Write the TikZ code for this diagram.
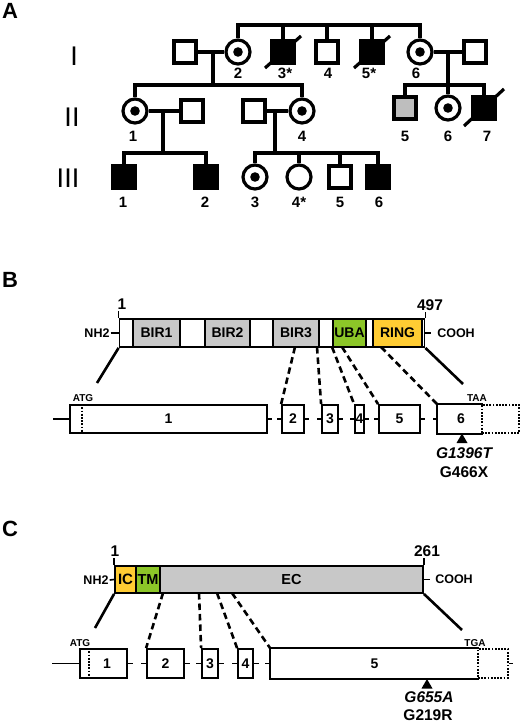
\documentclass[tikz,border=0pt]{standalone}
\usepackage{fontspec}
\setmainfont{Liberation Sans}
\usetikzlibrary{calc}
\definecolor{domgray}{RGB}{200,200,200}
\definecolor{ubagreen}{RGB}{140,198,40}
\definecolor{ringyellow}{RGB}{255,204,51}
\definecolor{pedgray}{RGB}{190,190,190}
\newcommand{\fsz}[1]{\fontsize{#1}{#1}\selectfont}
\begin{document}
\begin{tikzpicture}[x=1pt,y=-1pt,
  ped/.style={line width=3.2pt},
  msq/.style={draw, line width=3.2pt, rectangle, minimum size=22pt, inner sep=0pt},
  affsq/.style={msq, fill=black},
  graysq/.style={msq, fill=pedgray},
  fcirc/.style={draw, line width=3.2pt, circle, minimum size=24pt, inner sep=0pt},
  carrier/.style={fcirc, path picture={\fill (path picture bounding box.center) circle (4.8pt);}},
  num/.style={font=\bfseries\fsz{15}, inner sep=0pt},
  gen/.style={font=\fsz{27}, inner sep=0pt},
  panel/.style={font=\bfseries\fsz{22}, inner sep=0pt},
  protbar/.style={draw, line width=1.8pt, fill=white, rectangle, inner sep=0pt},
  dom/.style={draw, line width=1.8pt, rectangle, minimum height=28pt, inner sep=0pt, font=\bfseries\fsz{14}},
  term/.style={font=\bfseries\fsz{12.5}, inner sep=1pt},
  poslab/.style={font=\bfseries\fsz{15.5}, inner sep=1pt},
  exon/.style={draw, line width=1.8pt, rectangle, inner sep=0pt, font=\bfseries\fsz{14}},
  utr/.style={draw, line width=1.8pt, dash pattern=on 1.8pt off 1.4pt, rectangle, inner sep=0pt},
  intron/.style={line width=1.8pt},
  codon/.style={font=\bfseries\fsz{10}, inner sep=0pt},
  mut/.style={font=\bfseries\fsz{15.5}, inner sep=0pt},
  dconn/.style={line width=2.6pt, dash pattern=on 6.5pt off 4pt},
  sconn/.style={line width=2.6pt},
  tickline/.style={line width=1.6pt}
]
\useasboundingbox (0,0) rectangle (520,723);

% ================= Panel A =================
\node[panel] (pa) at (10,11) {A};
\node[gen] (g1) at (74,56) {I};
\node[gen] (g2) at (72,117) {II};
\node[gen] (g3) at (68,178) {III};

\coordinate (sI) at (0,25);
\coordinate (sII) at (0,85);
\coordinate (sIII) at (0,153);

% generation I
\node[msq] (i1) at (185,52) {};
\node[carrier] (i2) at (238,52) {};
\node[affsq] (i3) at (283,52) {};
\node[msq] (i4) at (327,52) {};
\node[affsq] (i5) at (372,52) {};
\node[carrier] (i6) at (420,52) {};
\node[msq] (i7) at (475,52) {};

\draw[ped] (i2.north) |- (i6.north |- sI) -- (i6.north);
\draw[ped] (i3.north) -- (i3.north |- sI);
\draw[ped] (i4.north) -- (i4.north |- sI);
\draw[ped] (i5.north) -- (i5.north |- sI);
\draw[ped] ([shift={(-18,16)}]i3.center) -- ([shift={(18,-16)}]i3.center);
\draw[ped] ([shift={(-18,16)}]i5.center) -- ([shift={(18,-16)}]i5.center);

\draw[ped] (i1.east) -- (i2.west);
\draw[ped] (i6.east) -- (i7.west);
\coordinate (d1) at (213,52);
\coordinate (d2) at (448,52);

% generation II
\node[carrier] (ii1) at (135,111) {};
\node[msq] (ii2) at (192,111) {};
\node[msq] (ii3) at (254,111) {};
\node[carrier] (ii4) at (302,111) {};
\node[graysq] (ii5) at (405,108) {};
\node[carrier] (ii6) at (448,108) {};
\node[affsq] (ii7) at (484,108) {};
\draw[ped] ([shift={(-20,18)}]ii7.center) -- ([shift={(20,-19)}]ii7.center);

\draw[ped] (d1) -- (d1 |- sII);
\draw[ped] (ii1.north) |- (ii4.north |- sII) -- (ii4.north);
\draw[ped] (d2) -- (d2 |- sII);
\draw[ped] (ii5.north) |- (ii7.north |- sII) -- (ii7.north);
\draw[ped] (ii6.north) -- (ii6.north |- sII);

\draw[ped] (ii1.east) -- (ii2.west);
\draw[ped] (ii3.east) -- (ii4.west);
\coordinate (d3) at (163,111);
\coordinate (d4) at (275,111);

% generation III
\node[affsq] (iii1) at (124,177) {};
\node[affsq] (iii2) at (206,177) {};
\node[carrier] (iii3) at (255,177) {};
\node[fcirc] (iii4) at (299,177) {};
\node[msq] (iii5) at (340,177) {};
\node[affsq] (iii6) at (378,177) {};

\draw[ped] (d3) -- (d3 |- sIII);
\draw[ped] (iii1.north) |- (iii2.north |- sIII) -- (iii2.north);
\draw[ped] (d4) -- (d4 |- sIII);
\draw[ped] (iii3.north) |- (iii6.north |- sIII) -- (iii6.north);
\draw[ped] (iii4.north) -- (iii4.north |- sIII);
\draw[ped] (iii5.north) -- (iii5.north |- sIII);

% numbers
\node[num] (n12) at (238,73) {2};
\node[num] (n13) at (285,73) {3*};
\node[num] (n14) at (328,73) {4};
\node[num] (n15) at (369,73) {5*};
\node[num] (n16) at (416,73) {6};
\node[num] (n21) at (133,136) {1};
\node[num] (n24) at (302,136) {4};
\node[num] (n25) at (405,136) {5};
\node[num] (n26) at (448,136) {6};
\node[num] (n27) at (487,136) {7};
\node[num] (n31) at (123,202) {1};
\node[num] (n32) at (205,202) {2};
\node[num] (n33) at (255,202) {3};
\node[num] (n34) at (299,202) {4*};
\node[num] (n35) at (340,202) {5};
\node[num] (n36) at (379,202) {6};

% ================= Panel B =================
\node[panel] (pb) at (10,280) {B};
\node[protbar, minimum width=305pt, minimum height=28pt] (bbar) at (272,333) {};
\node[dom, fill=domgray, minimum width=47pt] (bir1) at (156.5,333) {BIR1};
\node[dom, fill=domgray, minimum width=45pt] (bir2) at (227.5,333) {BIR2};
\node[dom, fill=domgray, minimum width=46pt] (bir3) at (296,333) {BIR3};
\node[dom, fill=ubagreen, minimum width=33pt] (uba) at (349.5,333) {\makebox[0pt]{UBA}};
\node[dom, fill=ringyellow, minimum width=49pt] (ring) at (397.5,333) {RING};

\node[poslab] (b1lab) at (122,304) {1};
\node[poslab] (b497) at (430,305) {497};
\draw[tickline] (bbar.north west) -- (bbar.north west |- b1lab.south);
\draw[tickline] (bbar.north east) -- (bbar.north east |- b497.south);

\node[term] (bnh) at (97,333) {NH2};
\draw[tickline] (bnh.east) -- (bbar.west);
\node[term] (bcooh) at (456,333) {COOH};
\draw[tickline] (bbar.east) -- ($(bbar.east)+(6,0)$);

% exons B
\node[exon, minimum width=197pt, minimum height=28pt] (b1) at (168.5,419) {1};
\node[exon, minimum width=22pt, minimum height=28pt] (b2) at (293,419) {2};
\node[exon, minimum width=16pt, minimum height=28pt] (b3) at (330,419) {3};
\node[exon, minimum width=9pt, minimum height=28pt] (b4) at (359.5,419) {\makebox[0pt]{4}};
\node[exon, minimum width=41pt, minimum height=28pt] (b5) at (399.5,419) {5};
\node[exon, draw=none, minimum width=44pt, minimum height=28pt] (b6) at (460,419) {\hspace*{2pt}6};
\draw[intron] (b6.north east) -- (b6.north west) -- (b6.south west) -- (b6.south east);
\node[utr, minimum width=37pt, minimum height=28pt] (b6x) at (500.5,419) {};

\coordinate (bstart) at (53,419);
\draw[intron] (bstart) -- (b1.west);
\foreach \a/\b in {b1/b2, b2/b3, b3/b4, b4/b5, b5/b6} {
  \draw[intron] (\a.east) -- ($(\a.east)+(4.5,0)$);
  \draw[intron] (\b.west) -- ($(\b.west)+(-4.5,0)$);
}
\draw[intron, dash pattern=on 1.8pt off 1.4pt] ([xshift=13pt]b1.north west) -- ([xshift=13pt]b1.south west);
\node[codon] (batg) at (83,398) {ATG};
\node[codon] (btaa) at (477,398) {TAA};

% connectors B
\coordinate (bl) at (97,383);
\coordinate (br) at (463,384);
\draw[sconn] (bbar.south west) -- (bl);
\draw[sconn] (bbar.south east) -- (br);
\coordinate (bp2) at (295,347);
\coordinate (bp3) at (317,347);
\coordinate (bp4) at (332,347);
\coordinate (bp5) at (342,347);
\coordinate (bp6) at (381,347);
\draw[dconn] (bp2) -- (b2.north west);
\draw[dconn] (bp3) -- (b3.north west);
\draw[dconn] (bp4) -- (b4.north west);
\draw[dconn] (bp5) -- (b5.north west);
\draw[dconn] (bp6) -- (b6.north west);

\fill (462,433.5) -- (467.5,443) -- (456.5,443) -- cycle;
\node[mut] (bm1) at (464,453) {\itshape G1396T};
\node[mut] (bm2) at (464,472) {G466X};

% ================= Panel C =================
\node[panel] (pc) at (10,529) {C};
\node[protbar, minimum width=308pt, minimum height=27pt] (cbar) at (269,579.5) {};
\node[dom, fill=ringyellow, minimum width=21pt, minimum height=27pt, font=\bfseries\fsz{15}] (ic) at (125.5,579.5) {IC};
\node[dom, fill=ubagreen, minimum width=24pt, minimum height=27pt, font=\bfseries\fsz{14.5}] (tm) at (148,579.5) {\makebox[0pt]{TM}};
\node[dom, fill=domgray, minimum width=263pt, minimum height=27pt, font=\bfseries\fsz{14.5}] (ec) at (291.5,579.5) {EC};

\node[poslab] (c1lab) at (115,551) {1};
\node[poslab] (c261) at (427,551) {261};
\draw[tickline] (cbar.north west) -- (cbar.north west |- c1lab.south);
\draw[tickline] (cbar.north east) -- (cbar.north east |- c261.south);

\node[term] (cnh) at (96,580) {NH2};
\draw[tickline] (cnh.east) -- (cbar.west);
\node[term] (ccooh) at (454,579) {COOH};
\draw[tickline] (cbar.east) -- ($(cbar.east)+(6,0)$);

% exons C
\node[exon, minimum width=47pt, minimum height=29pt] (c1) at (103.5,663.5) {\hspace*{7pt}1};
\node[exon, minimum width=37pt, minimum height=29pt] (c2) at (165.5,663.5) {2};
\node[exon, minimum width=16pt, minimum height=29pt] (c3) at (210,663.5) {3};
\node[exon, minimum width=15pt, minimum height=29pt] (c4) at (245.5,663.5) {4};
\node[exon, draw=none, minimum width=207pt, minimum height=29pt] (c5) at (374.5,663.5) {5};
\draw[intron] (c5.north east) -- (c5.north west) -- (c5.south west) -- (c5.south east);
\node[utr, minimum width=30pt, minimum height=29pt] (c5x) at (493,663.5) {};

\coordinate (cstart) at (52,663.5);
\coordinate (cend) at (513,663.5);
\draw[intron] (cstart) -- (c1.west);
\draw[intron] (c5x.east) -- (cend);
\foreach \a/\b in {c1/c2, c2/c3, c3/c4, c4/c5} {
  \draw[intron] (\a.east) -- ($(\a.east)+(5,0)$);
  \draw[intron] (\b.west) -- ($(\b.west)+(-5,0)$);
}
\draw[intron, dash pattern=on 1.8pt off 1.4pt] ([xshift=10pt]c1.north west) -- ([xshift=10pt]c1.south west);
\node[codon] (catg) at (80,643) {ATG};
\node[codon] (ctga) at (475,643) {TGA};

% connectors C
\coordinate (cl) at (95,628);
\coordinate (cr) at (462,630);
\draw[sconn] (cbar.south west) -- (cl);
\draw[sconn] (cbar.south east) -- (cr);
\coordinate (cp2) at (163,593);
\coordinate (cp3) at (199,593);
\coordinate (cp4) at (217,593);
\coordinate (cp5) at (232,593);
\draw[dconn] (cp2) -- (c2.north west);
\draw[dconn] (cp3) -- (c3.north west);
\draw[dconn] (cp4) -- (c4.north west);
\draw[dconn] (cp5) -- (c5.north west);

\fill (427,679) -- (432.5,688.5) -- (421.5,688.5) -- cycle;
\node[mut] (cm1) at (429,697.5) {\itshape G655A};
\node[mut] (cm2) at (428,715) {G219R};
\end{tikzpicture}
\end{document}
